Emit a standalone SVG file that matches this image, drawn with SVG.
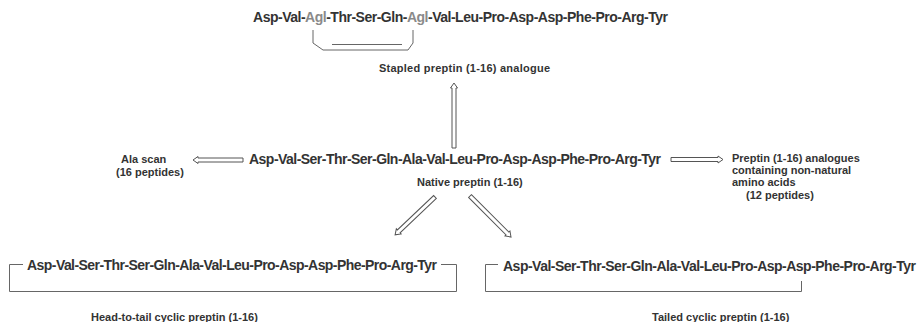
<svg xmlns="http://www.w3.org/2000/svg" width="919" height="322" viewBox="0 0 919 322">
<style>
.pep{font-family:"Liberation Sans",Arial,sans-serif;font-weight:bold;font-size:14px;fill:#333}
.lbl{font-family:"Liberation Sans",Arial,sans-serif;font-weight:bold;font-size:11px;fill:#333}
.agl{fill:#8a8a8a}
.ln{fill:none;stroke:#666;stroke-width:1}
.arr{fill:#fff;stroke:#555;stroke-width:1;stroke-linejoin:miter}
</style>
<defs>
<polygon id="a50" class="arr" points="0,-2 45,-2 45,-3.5 50,0 45,3.5 45,2 0,2"/>
</defs>
<rect width="919" height="322" fill="#fff"/>
<g id="stapled">
<text class="pep" x="253" y="22" textLength="415" lengthAdjust="spacing">Asp-Val-<tspan class="agl">Agl</tspan>-Thr-Ser-Gln-<tspan class="agl">Agl</tspan>-Val-Leu-Pro-Asp-Asp-Phe-Pro-Arg-Tyr</text>
<polyline class="ln" points="313,30 313,43 323,50 408,50 413,43 413,30"/>
<line class="ln" x1="332" y1="44.5" x2="402" y2="44.5"/>
<text class="lbl" x="379" y="72" textLength="171" lengthAdjust="spacing">Stapled preptin (1-16) analogue</text>
</g>
<g id="native">
<text class="pep" x="249" y="164" textLength="412" lengthAdjust="spacing">Asp-Val-Ser-Thr-Ser-Gln-Ala-Val-Leu-Pro-Asp-Asp-Phe-Pro-Arg-Tyr</text>
<text class="lbl" x="417" y="186">Native preptin (1-16)</text>
</g>
<g id="alascan">
<text class="lbl" x="121" y="163">Ala scan</text>
<text class="lbl" x="116" y="176">(16 peptides)</text>
</g>
<g id="nonnatural">
<text class="lbl" x="732" y="162">Preptin (1-16) analogues</text>
<text class="lbl" x="732" y="174">containing non-natural</text>
<text class="lbl" x="732" y="186">amino acids</text>
<text class="lbl" x="746" y="199">(12 peptides)</text>
</g>
<g id="headtotail">
<text class="pep" x="27" y="270" textLength="410" lengthAdjust="spacing">Asp-Val-Ser-Thr-Ser-Gln-Ala-Val-Leu-Pro-Asp-Asp-Phe-Pro-Arg-Tyr</text>
<polyline class="ln" points="23,264.5 9.5,264.5 9.5,291.5 456.5,291.5 456.5,264.5 441,264.5"/>
<text class="lbl" x="91" y="321">Head-to-tail cyclic preptin (1-16)</text>
</g>
<g id="tailed">
<text class="pep" x="503" y="271" textLength="413" lengthAdjust="spacing">Asp-Val-Ser-Thr-Ser-Gln-Ala-Val-Leu-Pro-Asp-Asp-Phe-Pro-Arg-Tyr</text>
<polyline class="ln" points="498,264.5 485.5,264.5 485.5,291.5 801.5,291.5 801.5,281"/>
<text class="lbl" x="652" y="321">Tailed cyclic preptin (1-16)</text>
</g>
<g id="connectors">
<polygon class="arr" transform="translate(454,148) rotate(-90)" points="0,-2 60,-2 60,-3.5 65,0 60,3.5 60,2 0,2"/>
<use href="#a50" transform="translate(243,160) rotate(180)"/>
<polygon class="arr" transform="translate(671,159.5)" points="0,-2 47,-2 47,-3.5 52,0 47,3.5 47,2 0,2"/>
<polygon class="arr" transform="translate(435,197) rotate(136.5)" points="0,-2 50,-2 50,-3.5 55,0 50,3.5 50,2 0,2"/>
<polygon class="arr" transform="translate(470,196) rotate(45)" points="0,-2 53,-2 53,-3.5 58,0 53,3.5 53,2 0,2"/>
</g>
</svg>
